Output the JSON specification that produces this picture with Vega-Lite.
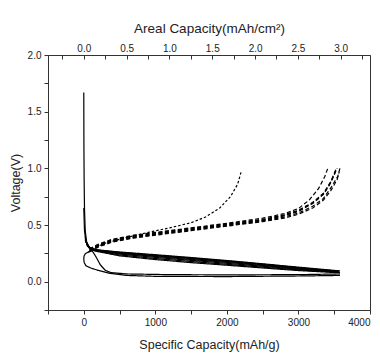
{
  "$schema": "https://vega.github.io/schema/vega-lite/v6.json",
  "autosize": "none",
  "width": 322,
  "height": 255,
  "padding": {"left": 48, "top": 55, "right": 10, "bottom": 44},
  "background": "white",
  "config": {
    "font": "Liberation Sans",
    "view": {"stroke": "#333", "strokeWidth": 1},
    "axis": {"grid": false, "domainColor": "#333", "tickColor": "#333", "labelColor": "#222", "titleColor": "#222", "labelFont": "Liberation Sans", "titleFont": "Liberation Sans", "labelFontSize": 10, "titleFontSize": 12.5, "titleFontWeight": "normal", "tickSize": 4, "labelPadding": 3}
  },
  "layer": [
    {
      "data": {"values": [
        {"s":"d1","t":"dis","c":0,"v":1.67},{"s":"d1","t":"dis","c":2,"v":1.2},{"s":"d1","t":"dis","c":5,"v":0.9},{"s":"d1","t":"dis","c":10,"v":0.65},{"s":"d1","t":"dis","c":20,"v":0.45},{"s":"d1","t":"dis","c":40,"v":0.35},{"s":"d1","t":"dis","c":80,"v":0.3},{"s":"d1","t":"dis","c":120,"v":0.27},{"s":"d1","t":"dis","c":170,"v":0.22},{"s":"d1","t":"dis","c":230,"v":0.15},{"s":"d1","t":"dis","c":300,"v":0.1},{"s":"d1","t":"dis","c":380,"v":0.08},{"s":"d1","t":"dis","c":600,"v":0.068},{"s":"d1","t":"dis","c":1200,"v":0.062},{"s":"d1","t":"dis","c":2000,"v":0.06},{"s":"d1","t":"dis","c":3000,"v":0.062},{"s":"d1","t":"dis","c":3580,"v":0.068},

        {"s":"h","t":"dis","c":110,"v":0.27},{"s":"h","t":"dis","c":60,"v":0.26},{"s":"h","t":"dis","c":20,"v":0.245},{"s":"h","t":"dis","c":3,"v":0.225},{"s":"h","t":"dis","c":0,"v":0.2},{"s":"h","t":"dis","c":5,"v":0.17},{"s":"h","t":"dis","c":30,"v":0.14},{"s":"h","t":"dis","c":100,"v":0.12},{"s":"h","t":"dis","c":200,"v":0.1},{"s":"h","t":"dis","c":350,"v":0.075},{"s":"h","t":"dis","c":600,"v":0.055},{"s":"h","t":"dis","c":1000,"v":0.047},{"s":"h","t":"dis","c":2000,"v":0.045},{"s":"h","t":"dis","c":3000,"v":0.05},{"s":"h","t":"dis","c":3580,"v":0.055},

        {"s":"d2","t":"dis","c":0,"v":0.65},{"s":"d2","t":"dis","c":10,"v":0.45},{"s":"d2","t":"dis","c":30,"v":0.35},{"s":"d2","t":"dis","c":80,"v":0.3},{"s":"d2","t":"dis","c":200,"v":0.28},{"s":"d2","t":"dis","c":500,"v":0.262},{"s":"d2","t":"dis","c":1000,"v":0.238},{"s":"d2","t":"dis","c":1500,"v":0.213},{"s":"d2","t":"dis","c":2000,"v":0.187},{"s":"d2","t":"dis","c":2500,"v":0.158},{"s":"d2","t":"dis","c":3000,"v":0.128},{"s":"d2","t":"dis","c":3580,"v":0.095},

        {"s":"d3","t":"dis","c":20,"v":0.4},{"s":"d3","t":"dis","c":50,"v":0.32},{"s":"d3","t":"dis","c":100,"v":0.295},{"s":"d3","t":"dis","c":200,"v":0.278},{"s":"d3","t":"dis","c":500,"v":0.258},{"s":"d3","t":"dis","c":1000,"v":0.233},{"s":"d3","t":"dis","c":1500,"v":0.208},{"s":"d3","t":"dis","c":2000,"v":0.182},{"s":"d3","t":"dis","c":2500,"v":0.153},{"s":"d3","t":"dis","c":3000,"v":0.124},{"s":"d3","t":"dis","c":3570,"v":0.092},

        {"s":"d4","t":"dis","c":20,"v":0.38},{"s":"d4","t":"dis","c":50,"v":0.315},{"s":"d4","t":"dis","c":100,"v":0.29},{"s":"d4","t":"dis","c":200,"v":0.274},{"s":"d4","t":"dis","c":500,"v":0.254},{"s":"d4","t":"dis","c":1000,"v":0.228},{"s":"d4","t":"dis","c":1500,"v":0.203},{"s":"d4","t":"dis","c":2000,"v":0.177},{"s":"d4","t":"dis","c":2500,"v":0.149},{"s":"d4","t":"dis","c":3000,"v":0.12},{"s":"d4","t":"dis","c":3560,"v":0.09},

        {"s":"d5","t":"dis","c":20,"v":0.37},{"s":"d5","t":"dis","c":60,"v":0.31},{"s":"d5","t":"dis","c":120,"v":0.285},{"s":"d5","t":"dis","c":500,"v":0.25},{"s":"d5","t":"dis","c":1000,"v":0.222},{"s":"d5","t":"dis","c":1500,"v":0.196},{"s":"d5","t":"dis","c":2000,"v":0.17},{"s":"d5","t":"dis","c":2500,"v":0.143},{"s":"d5","t":"dis","c":3000,"v":0.115},{"s":"d5","t":"dis","c":3560,"v":0.087},

        {"s":"d6","t":"dis","c":30,"v":0.36},{"s":"d6","t":"dis","c":70,"v":0.3},{"s":"d6","t":"dis","c":130,"v":0.28},{"s":"d6","t":"dis","c":500,"v":0.244},{"s":"d6","t":"dis","c":1000,"v":0.214},{"s":"d6","t":"dis","c":1500,"v":0.188},{"s":"d6","t":"dis","c":2000,"v":0.162},{"s":"d6","t":"dis","c":2500,"v":0.136},{"s":"d6","t":"dis","c":3000,"v":0.11},{"s":"d6","t":"dis","c":3570,"v":0.085},

        {"s":"d7","t":"dis","c":30,"v":0.35},{"s":"d7","t":"dis","c":80,"v":0.295},{"s":"d7","t":"dis","c":150,"v":0.275},{"s":"d7","t":"dis","c":500,"v":0.236},{"s":"d7","t":"dis","c":1000,"v":0.204},{"s":"d7","t":"dis","c":1500,"v":0.178},{"s":"d7","t":"dis","c":2000,"v":0.153},{"s":"d7","t":"dis","c":2500,"v":0.128},{"s":"d7","t":"dis","c":3000,"v":0.104},{"s":"d7","t":"dis","c":3580,"v":0.082},

        {"s":"d8","t":"dis","c":40,"v":0.34},{"s":"d8","t":"dis","c":90,"v":0.29},{"s":"d8","t":"dis","c":160,"v":0.27},{"s":"d8","t":"dis","c":500,"v":0.228},{"s":"d8","t":"dis","c":1000,"v":0.195},{"s":"d8","t":"dis","c":1500,"v":0.168},{"s":"d8","t":"dis","c":2000,"v":0.145},{"s":"d8","t":"dis","c":2500,"v":0.121},{"s":"d8","t":"dis","c":3000,"v":0.098},{"s":"d8","t":"dis","c":3580,"v":0.078},

        {"s":"c1","t":"chg1","c":60,"v":0.26},{"s":"c1","t":"chg1","c":150,"v":0.3},{"s":"c1","t":"chg1","c":300,"v":0.34},{"s":"c1","t":"chg1","c":600,"v":0.39},{"s":"c1","t":"chg1","c":900,"v":0.435},{"s":"c1","t":"chg1","c":1200,"v":0.475},{"s":"c1","t":"chg1","c":1500,"v":0.52},{"s":"c1","t":"chg1","c":1700,"v":0.57},{"s":"c1","t":"chg1","c":1900,"v":0.65},{"s":"c1","t":"chg1","c":2050,"v":0.75},{"s":"c1","t":"chg1","c":2150,"v":0.86},{"s":"c1","t":"chg1","c":2200,"v":0.97},

        {"s":"c2","t":"chg","c":80,"v":0.285},{"s":"c2","t":"chg","c":200,"v":0.325},{"s":"c2","t":"chg","c":400,"v":0.37},{"s":"c2","t":"chg","c":700,"v":0.405},{"s":"c2","t":"chg","c":1000,"v":0.43},{"s":"c2","t":"chg","c":1500,"v":0.47},{"s":"c2","t":"chg","c":2000,"v":0.51},{"s":"c2","t":"chg","c":2500,"v":0.55},{"s":"c2","t":"chg","c":2800,"v":0.59},{"s":"c2","t":"chg","c":3000,"v":0.63},{"s":"c2","t":"chg","c":3200,"v":0.7},{"s":"c2","t":"chg","c":3350,"v":0.78},{"s":"c2","t":"chg","c":3450,"v":0.88},{"s":"c2","t":"chg","c":3530,"v":1.0},

        {"s":"c3","t":"chg","c":80,"v":0.28},{"s":"c3","t":"chg","c":200,"v":0.32},{"s":"c3","t":"chg","c":400,"v":0.365},{"s":"c3","t":"chg","c":700,"v":0.4},{"s":"c3","t":"chg","c":1000,"v":0.425},{"s":"c3","t":"chg","c":1500,"v":0.465},{"s":"c3","t":"chg","c":2000,"v":0.505},{"s":"c3","t":"chg","c":2500,"v":0.545},{"s":"c3","t":"chg","c":2800,"v":0.585},{"s":"c3","t":"chg","c":3000,"v":0.625},{"s":"c3","t":"chg","c":3200,"v":0.695},{"s":"c3","t":"chg","c":3350,"v":0.775},{"s":"c3","t":"chg","c":3450,"v":0.875},{"s":"c3","t":"chg","c":3535,"v":1.0},

        {"s":"c4","t":"chg","c":80,"v":0.275},{"s":"c4","t":"chg","c":200,"v":0.315},{"s":"c4","t":"chg","c":400,"v":0.36},{"s":"c4","t":"chg","c":700,"v":0.395},{"s":"c4","t":"chg","c":1000,"v":0.42},{"s":"c4","t":"chg","c":1500,"v":0.46},{"s":"c4","t":"chg","c":2000,"v":0.5},{"s":"c4","t":"chg","c":2500,"v":0.54},{"s":"c4","t":"chg","c":2800,"v":0.58},{"s":"c4","t":"chg","c":3000,"v":0.62},{"s":"c4","t":"chg","c":3200,"v":0.69},{"s":"c4","t":"chg","c":3350,"v":0.77},{"s":"c4","t":"chg","c":3450,"v":0.87},{"s":"c4","t":"chg","c":3540,"v":1.0},

        {"s":"c5","t":"chg","c":80,"v":0.27},{"s":"c5","t":"chg","c":200,"v":0.31},{"s":"c5","t":"chg","c":400,"v":0.355},{"s":"c5","t":"chg","c":700,"v":0.39},{"s":"c5","t":"chg","c":1000,"v":0.415},{"s":"c5","t":"chg","c":1500,"v":0.455},{"s":"c5","t":"chg","c":2000,"v":0.495},{"s":"c5","t":"chg","c":2500,"v":0.535},{"s":"c5","t":"chg","c":2800,"v":0.57},{"s":"c5","t":"chg","c":3000,"v":0.605},{"s":"c5","t":"chg","c":3200,"v":0.665},{"s":"c5","t":"chg","c":3350,"v":0.735},{"s":"c5","t":"chg","c":3450,"v":0.825},{"s":"c5","t":"chg","c":3550,"v":0.93},{"s":"c5","t":"chg","c":3580,"v":1.0},

        {"s":"c6","t":"chg","c":80,"v":0.265},{"s":"c6","t":"chg","c":200,"v":0.305},{"s":"c6","t":"chg","c":400,"v":0.35},{"s":"c6","t":"chg","c":700,"v":0.385},{"s":"c6","t":"chg","c":1000,"v":0.41},{"s":"c6","t":"chg","c":1500,"v":0.45},{"s":"c6","t":"chg","c":2000,"v":0.49},{"s":"c6","t":"chg","c":2500,"v":0.53},{"s":"c6","t":"chg","c":2800,"v":0.56},{"s":"c6","t":"chg","c":3000,"v":0.595},{"s":"c6","t":"chg","c":3200,"v":0.65},{"s":"c6","t":"chg","c":3350,"v":0.72},{"s":"c6","t":"chg","c":3450,"v":0.8},{"s":"c6","t":"chg","c":3540,"v":0.9},{"s":"c6","t":"chg","c":3570,"v":0.97},

        {"s":"c7","t":"chg","c":80,"v":0.29},{"s":"c7","t":"chg","c":200,"v":0.33},{"s":"c7","t":"chg","c":400,"v":0.375},{"s":"c7","t":"chg","c":700,"v":0.41},{"s":"c7","t":"chg","c":1000,"v":0.435},{"s":"c7","t":"chg","c":1500,"v":0.475},{"s":"c7","t":"chg","c":2000,"v":0.515},{"s":"c7","t":"chg","c":2500,"v":0.56},{"s":"c7","t":"chg","c":2800,"v":0.6},{"s":"c7","t":"chg","c":3000,"v":0.645},{"s":"c7","t":"chg","c":3150,"v":0.72},{"s":"c7","t":"chg","c":3280,"v":0.82},{"s":"c7","t":"chg","c":3370,"v":0.93},{"s":"c7","t":"chg","c":3410,"v":1.0}
      ]},
      "mark": {"type": "line", "color": "black", "strokeWidth": 1.2, "clip": true},
      "encoding": {
        "x": {"field": "c", "type": "quantitative", "scale": {"domain": [-500, 4000], "nice": false, "zero": false},
          "axis": {"orient": "bottom", "title": "Specific Capacity(mAh/g)", "values": [-500,0,500,1000,1500,2000,2500,3000,3500,4000], "labelExpr": "datum.value % 1000 === 0 ? datum.label : ''", "format": "d", "titlePadding": 11}},
        "y": {"field": "v", "type": "quantitative", "scale": {"domain": [-0.25, 2.0], "nice": false, "zero": false},
          "axis": {"title": "Voltage(V)", "values": [-0.25,0,0.25,0.5,0.75,1.0,1.25,1.5,1.75,2.0], "format": ".1f", "labelExpr": "round(datum.value*4) % 2 === 0 ? datum.label : ''", "titlePadding": 5}},
        "detail": {"field": "s"},
        "order": {"value": null},
        "strokeDash": {"field": "t", "type": "nominal", "scale": {"domain": ["dis", "chg", "chg1"], "range": [[1, 0], [4, 2.5], [2.5, 2]]}, "legend": null}
      }
    },
    {
      "data": {"values": [{"a": -0.4177}, {"a": 3.3417}]},
      "mark": {"type": "point", "opacity": 0},
      "encoding": {
        "x": {"field": "a", "type": "quantitative", "scale": {"domain": [-0.4177, 3.3417], "nice": false, "zero": false},
          "axis": {"orient": "top", "title": "Areal Capacity(mAh/cm²)", "titleFontSize": 13.5, "values": [-0.25,0,0.25,0.5,0.75,1.0,1.25,1.5,1.75,2.0,2.25,2.5,2.75,3.0,3.25], "format": ".1f", "labelExpr": "round(datum.value*4) % 2 === 0 ? datum.label : ''", "tickSize": -4, "labelPadding": 6, "titlePadding": 8}}
      }
    }
  ],
  "resolve": {"scale": {"x": "independent"}, "axis": {"x": "independent"}}
}
